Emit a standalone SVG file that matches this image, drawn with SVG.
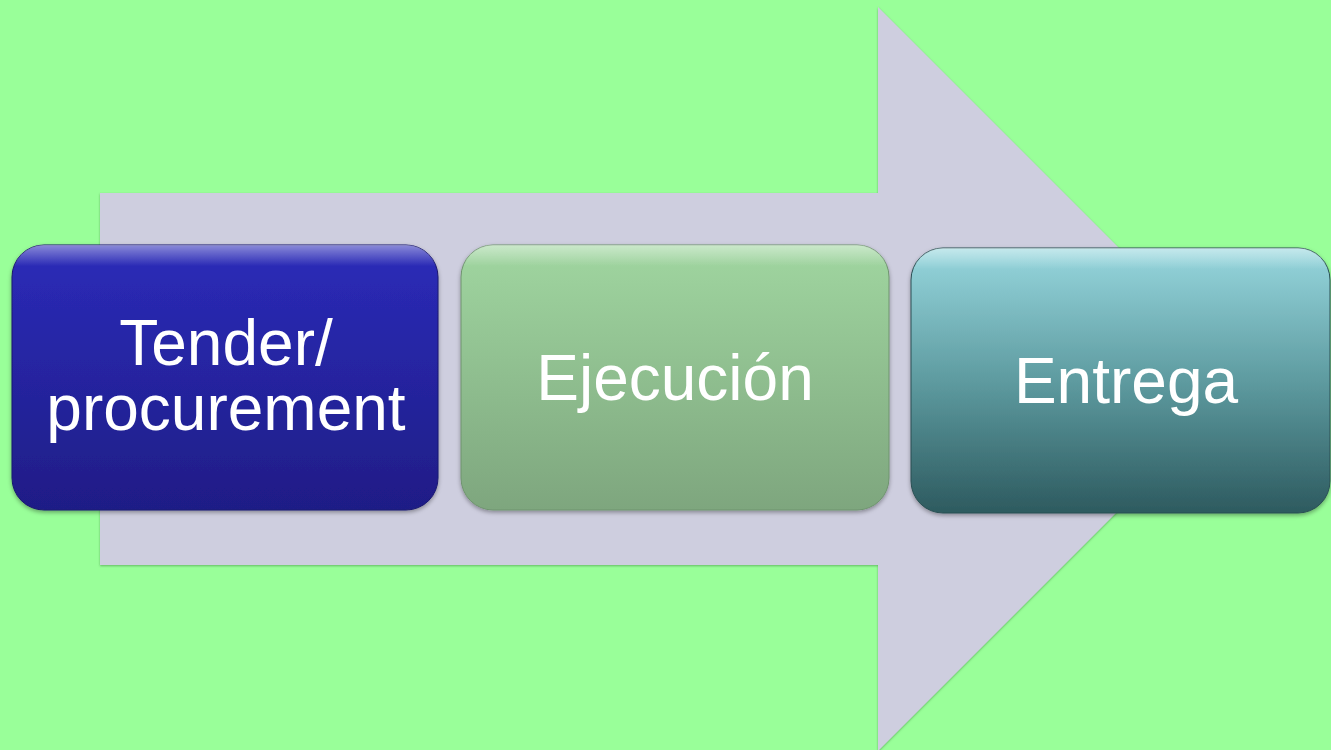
<svg xmlns="http://www.w3.org/2000/svg" width="1331" height="750" viewBox="0 0 1331 750">
<style>
.lbl{font-family:"Liberation Sans",Arial,sans-serif;font-size:64px;fill:#ffffff;text-anchor:middle}
</style>
<defs>
<linearGradient id="g1" x1="0" y1="0" x2="0" y2="1">
<stop offset="0" stop-color="#2b2bb9"/><stop offset="1" stop-color="#1f1d86"/>
</linearGradient>
<linearGradient id="g2" x1="0" y1="0" x2="0" y2="1">
<stop offset="0" stop-color="#a0d6a0"/><stop offset="1" stop-color="#7ea67e"/>
</linearGradient>
<linearGradient id="g3" x1="0" y1="0" x2="0" y2="1">
<stop offset="0" stop-color="#97d7de"/><stop offset="0.5" stop-color="#5e9ba0"/><stop offset="1" stop-color="#2d5a5f"/>
</linearGradient>
<linearGradient id="hl" x1="0" y1="0" x2="0" y2="1">
<stop offset="0" stop-color="#ffffff" stop-opacity="0.45"/><stop offset="0.08" stop-color="#ffffff" stop-opacity="0"/>
</linearGradient>
<filter id="sh" x="-5%" y="-5%" width="110%" height="115%">
<feDropShadow dx="0" dy="2" stdDeviation="2" flood-color="#000" flood-opacity="0.35"/>
</filter>
<filter id="ash" x="-5%" y="-5%" width="110%" height="110%">
<feDropShadow dx="0" dy="1" stdDeviation="1" flood-color="#3a8a3a" flood-opacity="0.6"/>
</filter>
</defs>
<rect x="0" y="0" width="1331" height="750" fill="#99ff99"/>
<g id="connectors">
<polygon points="100,193 878,193 878,7 1250,379 878,751 878,565 100,565" fill="#cecedf" filter="url(#ash)"/>
</g>
<g id="node-tender">
<rect x="12" y="245" width="426" height="265" rx="32" fill="url(#g1)" stroke="#1a1870" stroke-width="1" filter="url(#sh)"/>
<rect x="12" y="245" width="426" height="265" rx="32" fill="url(#hl)"/>
<text class="lbl" x="226" y="365">Tender/</text>
<text class="lbl" x="226" y="430">procurement</text>
</g>
<g id="node-ejecucion">
<rect x="461" y="245" width="428" height="265" rx="32" fill="url(#g2)" stroke="#6f946f" stroke-width="1" filter="url(#sh)"/>
<rect x="461" y="245" width="428" height="265" rx="32" fill="url(#hl)"/>
<text class="lbl" x="675" y="400">Ejecución</text>
</g>
<g id="node-entrega">
<rect x="911" y="248" width="419" height="265" rx="32" fill="url(#g3)" stroke="#2a4f53" stroke-width="1" filter="url(#sh)"/>
<rect x="911" y="248" width="419" height="265" rx="32" fill="url(#hl)"/>
<text class="lbl" x="1126" y="403">Entrega</text>
</g>
</svg>
